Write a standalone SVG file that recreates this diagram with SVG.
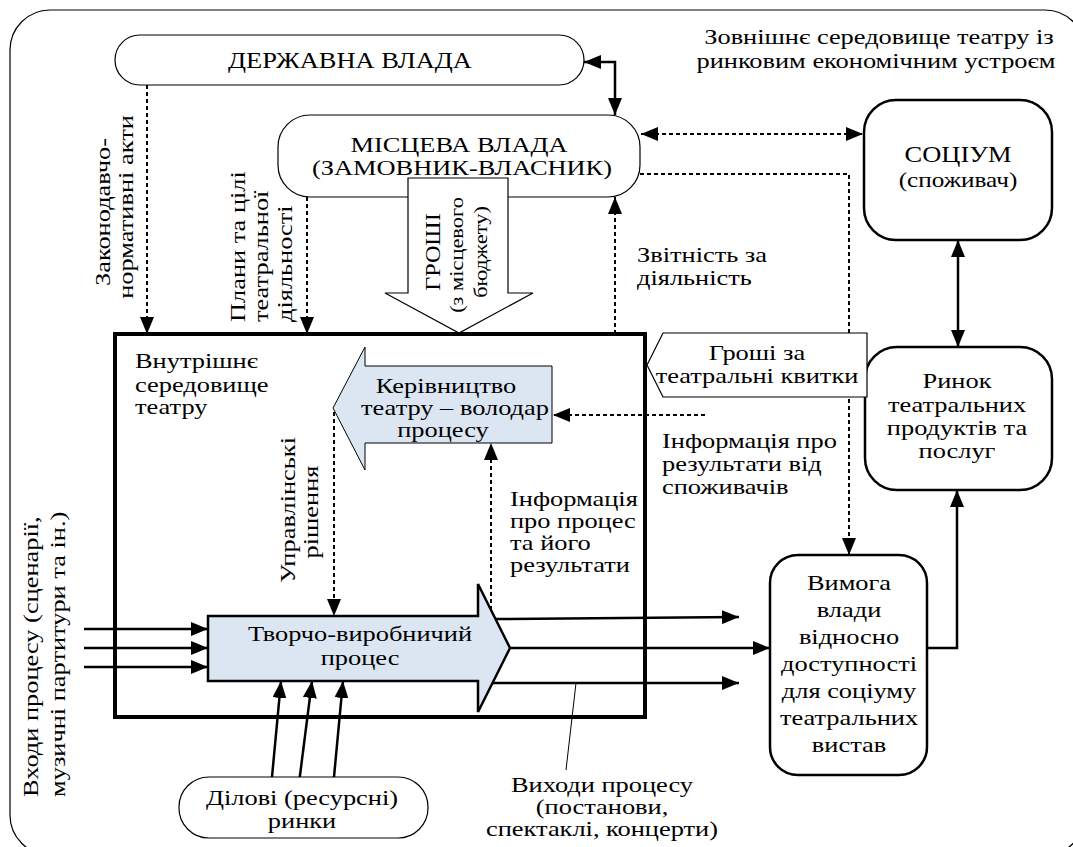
<svg xmlns="http://www.w3.org/2000/svg" width="1073" height="847" viewBox="0 0 1073 847" font-family="Liberation Serif, Times New Roman, serif" font-size="22">
<defs>
<marker id="ah" markerUnits="userSpaceOnUse" markerWidth="18" markerHeight="14" refX="17" refY="7" orient="auto-start-reverse" viewBox="0 0 18 14">
<path d="M0,0 L17,7 L0,14 z" fill="#000"/>
</marker>
</defs>
<style>
.c{text-anchor:middle}
.thin{fill:#fff;stroke:#000;stroke-width:1.2}
.thick{fill:#fff;stroke:#000;stroke-width:2.5}
.dot{fill:none;stroke:#000;stroke-width:2;stroke-dasharray:4 3}
.sol{fill:none;stroke:#000;stroke-width:2.5}
.blue{fill:#dce6f2;stroke:#000;stroke-width:1}
.ah{marker-end:url(#ah)}
.ah2{marker-start:url(#ah);marker-end:url(#ah)}
</style>
<rect id="frame" x="10" y="10" width="1075" height="845" rx="40" fill="#fff" stroke="#000" stroke-width="1.2"/>
<g id="title">
<text class="c" transform="translate(879,44) scale(1.2,1)">Зовнішнє середовище театру із</text>
<text class="c" transform="translate(876,68) scale(1.2,1)">ринковим економічним устроєм</text>
</g>

<g id="inner">
<rect x="115" y="334" width="530" height="383" fill="none" stroke="#000" stroke-width="4"/>
<text transform="translate(135,368) scale(1.2,1)">Внутрішнє</text>
<text transform="translate(135,392) scale(1.2,1)">середовище</text>
<text transform="translate(135,414) scale(1.2,1)">театру</text>
</g>

<g id="connectors">
<path class="sol ah2" d="M584,62 H615 V115"/>
<path class="dot ah" d="M147,85 V334"/>
<path class="dot ah" d="M307,197 V334"/>
<path class="dot ah" d="M615,334 V197"/>
<path class="dot ah2" d="M641,134 H863"/>
<path class="dot ah" d="M640,174 H849 V555"/>
<path class="dot ah" d="M705,415 H553"/>
<path class="dot ah" d="M334,412 V616"/>
<path class="dot ah" d="M491,610 V443"/>
<path class="sol ah2" d="M958,240 V347"/>
<path class="sol ah" d="M927,648 H957 V490"/>
<path class="sol ah" d="M84,629 H208"/>
<path class="sol ah" d="M84,648 H208"/>
<path class="sol ah" d="M84,667 H208"/>
<path class="sol ah" d="M495,619 L739,617"/>
<path class="sol ah" d="M510,648 H770"/>
<path class="sol ah" d="M493,683 H739"/>
<path class="sol ah" d="M272,777 L281,681"/>
<path class="sol ah" d="M298,791 L312,681"/>
<path class="sol ah" d="M334,777 L343,681"/>
<path d="M576,683 L566,770" fill="none" stroke="#000" stroke-width="1"/>
</g>

<g id="derzh">
<rect class="thin" x="115" y="35" width="469" height="50" rx="25"/>
<text class="c" font-size="23" transform="translate(350,68) scale(1.15,1)">ДЕРЖАВНА ВЛАДА</text>
</g>

<g id="mistseva">
<rect class="thin" x="278" y="115" width="362" height="82" rx="32"/>
<text class="c" transform="translate(459,152) scale(1.2,1)">МІСЦЕВА ВЛАДА</text>
<text class="c" transform="translate(462,175) scale(1.2,1)">(ЗАМОВНИК-ВЛАСНИК)</text>
</g>

<g id="groshi">
<polygon class="thin" points="408,178 508,178 508,293 533,293 459,333 385,293 408,293"/>
<text class="c" font-size="21" transform="translate(440,252) rotate(-90) scale(1.15,1)">ГРОШІ</text>
<text class="c" font-size="19.5" transform="translate(463,255) rotate(-90) scale(1.15,1)">(з місцевого</text>
<text class="c" font-size="19.5" transform="translate(487,252) rotate(-90) scale(1.15,1)">бюджету)</text>
</g>

<g id="socium">
<rect class="thick" x="864" y="100" width="188" height="140" rx="32"/>
<text class="c" font-size="23" transform="translate(958,162) scale(1.15,1)">СОЦІУМ</text>
<text class="c" font-size="21" transform="translate(958,187) scale(1.2,1)">(споживач)</text>
</g>

<g id="rynok">
<rect class="thick" x="865" y="347" width="187" height="143" rx="32"/>
<text class="c" transform="translate(957,388) scale(1.2,1)">Ринок</text>
<text class="c" transform="translate(957,412) scale(1.2,1)">театральних</text>
<text class="c" transform="translate(957,435) scale(1.2,1)">продуктів та</text>
<text class="c" transform="translate(957,458) scale(1.2,1)">послуг</text>
</g>

<g id="groshi-kvytky">
<polygon class="thin" points="647,365 663,333 867,333 867,397 663,397"/>
<text class="c" transform="translate(757,360) scale(1.2,1)">Гроші за</text>
<text class="c" transform="translate(757,383) scale(1.2,1)">театральні квитки</text>
</g>

<g id="kerivnytstvo">
<polygon class="blue" points="552,366 552,443 365,443 365,470 333,408 365,347 365,366"/>
<text class="c" transform="translate(446,393) scale(1.2,1)">Керівництво</text>
<text class="c" transform="translate(455,415) scale(1.2,1)">театру – володар</text>
<text class="c" transform="translate(443,437) scale(1.2,1)">процесу</text>
</g>

<g id="process">
<polygon class="blue" style="stroke-width:2.5" points="208,616 478,616 478,584 510,648 478,712 478,681 208,681"/>
<text class="c" transform="translate(360,641) scale(1.2,1)">Творчо-виробничий</text>
<text class="c" transform="translate(360,665) scale(1.2,1)">процес</text>
</g>

<g id="vymoha">
<rect class="thick" x="770" y="555" width="157" height="220" rx="28"/>
<text class="c" transform="translate(849,590) scale(1.2,1)">Вимога</text>
<text class="c" transform="translate(849,617) scale(1.2,1)">влади</text>
<text class="c" transform="translate(849,644) scale(1.2,1)">відносно</text>
<text class="c" transform="translate(849,671) scale(1.2,1)">доступності</text>
<text class="c" transform="translate(849,698) scale(1.2,1)">для соціуму</text>
<text class="c" transform="translate(849,725) scale(1.2,1)">театральних</text>
<text class="c" transform="translate(849,752) scale(1.2,1)">вистав</text>
</g>

<g id="dilovi">
<rect class="thin" x="179" y="777" width="249" height="61" rx="30"/>
<text class="c" transform="translate(302,805) scale(1.2,1)">Ділові (ресурсні)</text>
<text class="c" transform="translate(302,828) scale(1.2,1)">ринки</text>
</g>

<g id="labels">
<text class="c" transform="translate(110,212) rotate(-90) scale(1.2,1)">Законодавчо-</text>
<text class="c" transform="translate(133,207) rotate(-90) scale(1.2,1)">нормативні акти</text>
<text transform="translate(245,322) rotate(-90) scale(1.2,1)">Плани та цілі</text>
<text transform="translate(268,322) rotate(-90) scale(1.2,1)">театральної</text>
<text transform="translate(292,322) rotate(-90) scale(1.2,1)">діяльності</text>
<text transform="translate(637,262) scale(1.2,1)">Звітність за</text>
<text transform="translate(637,285) scale(1.2,1)">діяльність</text>
<text transform="translate(662,448) scale(1.2,1)">Інформація про</text>
<text transform="translate(662,471) scale(1.2,1)">результати від</text>
<text transform="translate(662,494) scale(1.2,1)">споживачів</text>
<text transform="translate(510,506) scale(1.2,1)">Інформація</text>
<text transform="translate(510,528) scale(1.2,1)">про процес</text>
<text transform="translate(510,550) scale(1.2,1)">та його</text>
<text transform="translate(510,572) scale(1.2,1)">результати</text>
<text class="c" transform="translate(295,510) rotate(-90) scale(1.2,1)">Управлінські</text>
<text class="c" transform="translate(318,512) rotate(-90) scale(1.2,1)">рішення</text>
<text transform="translate(38,797) rotate(-90) scale(1.2,1)">Входи процесу (сценарії,</text>
<text transform="translate(65,797) rotate(-90) scale(1.2,1)">музичні партитури та ін.)</text>
<text class="c" transform="translate(602,792) scale(1.2,1)">Виходи процесу</text>
<text class="c" transform="translate(602,814) scale(1.2,1)">(постанови,</text>
<text class="c" transform="translate(602,836) scale(1.2,1)">спектаклі, концерти)</text>
</g>
</svg>
